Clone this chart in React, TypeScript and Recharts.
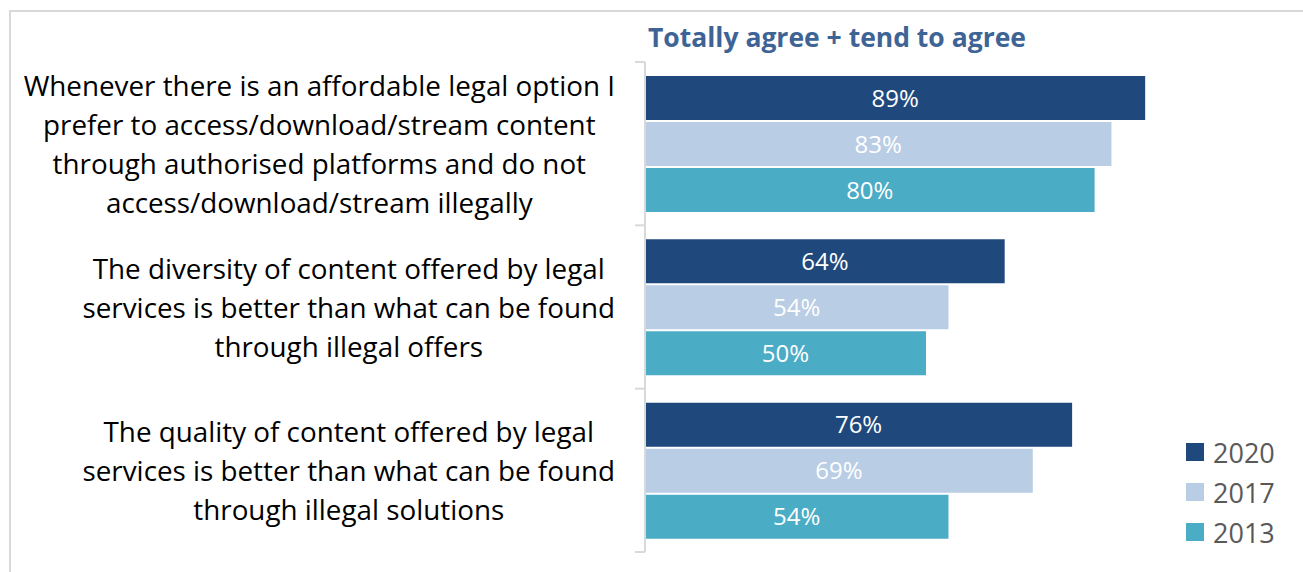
import { BarChart, Bar, XAxis, YAxis, Legend, LabelList } from 'recharts';

const categories = [
  'Whenever there is an affordable legal option I\nprefer to access/download/stream content\nthrough authorised platforms and do not\naccess/download/stream illegally',
  'The diversity of content offered by legal\nservices is better than what can be found\nthrough illegal offers',
  'The quality of content offered by legal\nservices is better than what can be found\nthrough illegal solutions',
];
const values2020 = [89, 64, 76];
const values2017 = [83, 54, 69];
const values2013 = [80, 50, 54];
const seriesNames = ['2020', '2017', '2013'];
const seriesColors = ['#1f497d', '#b9cde5', '#4bacc6'];

const data = categories.map((name, i) => ({
  name,
  y2020: values2020[i],
  y2017: values2017[i],
  y2013: values2013[i],
}));

const FONT = '"Open Sans", sans-serif';
const LABEL_SIZE = 27.8;
const CHART_W = 1303;
const CHART_H = 572;
const MARGIN = { top: 62, right: 96, bottom: 20, left: 644 };
const TICK_GAP = 30;
const GRID = '#d9d9d9';

let ctx: CanvasRenderingContext2D | null = null;
function textWidth(s: string, size: number): number {
  if (!ctx) ctx = document.createElement('canvas').getContext('2d');
  if (!ctx) return s.length * size * 0.5;
  ctx.font = `${size}px "Open Sans"`;
  return ctx.measureText(s).width;
}

// Excel style: block right-aligned, lines centred inside it.
// Also draws the small tick marks at the band edges.
function CategoryTick(props: any) {
  const { x, y, payload, index, visibleTicksCount } = props;
  const lines = String(payload.value).split('\n');
  const w = Math.max(...lines.map((l) => textWidth(l, LABEL_SIZE)));
  const cx = x - w / 2;
  const lh = 39;
  const y0 = y - ((lines.length - 1) * lh) / 2;
  const half = (CHART_H - MARGIN.top - MARGIN.bottom) / categories.length / 2;
  const ax = x + TICK_GAP;
  const isLast = index === (visibleTicksCount ?? categories.length) - 1;
  return (
    <g>
      <line x1={ax - 10} x2={ax} y1={y - half} y2={y - half} stroke={GRID} strokeWidth={2} />
      {isLast && (
        <line x1={ax - 10} x2={ax} y1={y + half} y2={y + half} stroke={GRID} strokeWidth={2} />
      )}
      {lines.map((l, i) => (
        <text
          key={i}
          x={cx}
          y={y0 + i * lh}
          textAnchor="middle"
          dominantBaseline="central"
          fontSize={LABEL_SIZE}
          fontFamily={FONT}
          fill="#000"
        >
          {l}
        </text>
      ))}
    </g>
  );
}

function LegendContent() {
  return (
    <div style={{ fontFamily: FONT }}>
      {seriesNames.map((n, i) => (
        <div key={n} style={{ display: 'flex', alignItems: 'center', height: 40 }}>
          <span style={{ width: 18, height: 18, background: seriesColors[i], marginRight: 9 }} />
          <span style={{ fontSize: 27, color: '#595959' }}>{n}</span>
        </div>
      ))}
    </div>
  );
}

export default function App() {
  const keys = ['y2020', 'y2017', 'y2013'];
  return (
    <div
      style={{
        position: 'absolute',
        left: 0,
        top: 0,
        width: CHART_W,
        height: CHART_H,
        overflow: 'hidden',
        background: '#fff',
        fontFamily: FONT,
      }}
    >
      <div
        style={{
          position: 'absolute',
          left: 9,
          top: 10,
          width: 1400,
          height: 700,
          border: `2px solid ${GRID}`,
        }}
      />
      <div
        style={{
          position: 'absolute',
          left: 648,
          top: 19,
          fontSize: 26.5,
          fontWeight: 700,
          color: '#3e6496',
          whiteSpace: 'nowrap',
        }}
      >
        Totally agree + tend to agree
      </div>
      <div style={{ position: 'absolute', left: 0, top: 0 }}>
        <BarChart
          width={CHART_W}
          height={CHART_H}
          data={data}
          layout="vertical"
          margin={MARGIN}
          barSize={44}
          barGap={2}
        >
          <XAxis type="number" domain={[0, 100]} hide />
          <YAxis
            type="category"
            dataKey="name"
            width={1}
            axisLine={{ stroke: GRID, strokeWidth: 2 }}
            tickLine={false}
            tickSize={0}
            tickMargin={TICK_GAP}
            tick={<CategoryTick />}
            interval={0}
          />
          <Legend
            layout="vertical"
            align="center"
            verticalAlign="middle"
            content={<LegendContent />}
            wrapperStyle={{ left: 1186, top: 432, width: 110, height: 120 }}
          />
          {keys.map((k, i) => (
            <Bar
              key={k}
              dataKey={k}
              name={seriesNames[i]}
              fill={seriesColors[i]}
              isAnimationActive={false}
            >
              <LabelList
                dataKey={k}
                position="center"
                fill="#fff"
                fontSize={24}
                fontFamily={FONT}
                formatter={(v: any) => `${v}%`}
              />
            </Bar>
          ))}
        </BarChart>
      </div>
    </div>
  );
}
